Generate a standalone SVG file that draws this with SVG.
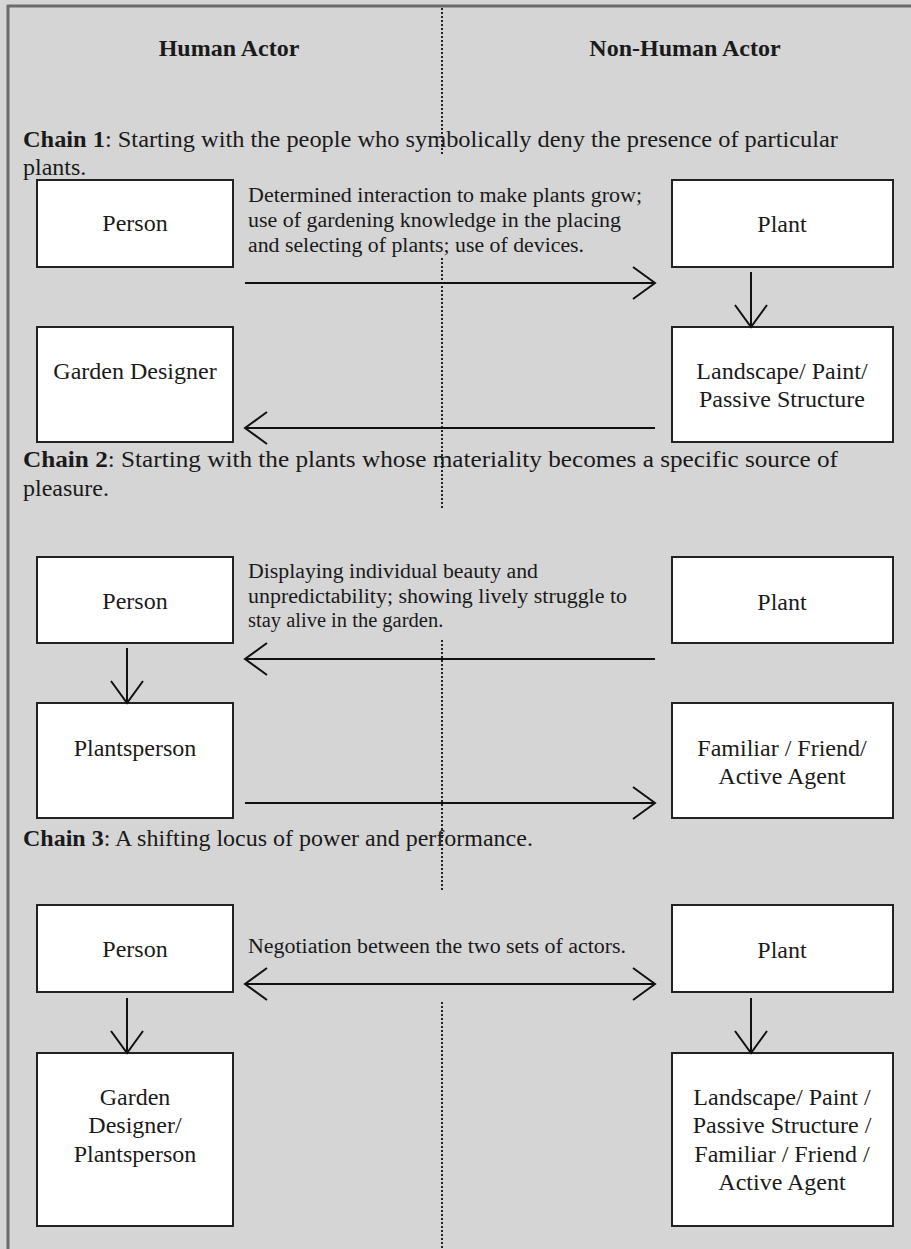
<svg xmlns="http://www.w3.org/2000/svg" width="911" height="1249" viewBox="0 0 911 1249">
<defs>
<style>
.bg{fill:#d5d5d5}
.frame{stroke:#6a6a6a;stroke-width:3;fill:none}
.box{fill:#ffffff;stroke:#222;stroke-width:2}
.t{font-family:"Liberation Serif","Times New Roman",serif;fill:#1a1a1a}
.bt{font-size:24px;text-anchor:middle}
.hd{font-size:24px;font-weight:bold;text-anchor:middle}
.ch{font-size:24px}
.lb{font-size:20.5px}
.arr{stroke:#111;stroke-width:2;fill:none}
.dot{stroke:#222;stroke-width:2;stroke-dasharray:2 2;fill:none}
</style>
<marker id="ah" viewBox="-24 -18 26 36" refX="0" refY="0" markerWidth="26" markerHeight="36" markerUnits="userSpaceOnUse" orient="auto-start-reverse">
<path d="M-22,-16 L0,0 L-22,16" fill="none" stroke="#111" stroke-width="2"/>
</marker>
</defs>
<rect class="bg" x="0" y="0" width="911" height="1249"/>
<g id="frame">
<line class="frame" x1="7" y1="6" x2="911" y2="6"/>
<line class="frame" x1="8" y1="5" x2="8" y2="1249"/>
</g>
<g id="divider">
<line class="dot" x1="442" y1="8" x2="442" y2="156"/>
<line class="dot" x1="442" y1="258" x2="442" y2="508"/>
<line class="dot" x1="442" y1="640" x2="442" y2="890"/>
<line class="dot" x1="442" y1="1002" x2="442" y2="1249"/>
</g>
<g id="headers">
<text class="t hd" x="229" y="56">Human Actor</text>
<text class="t hd" x="685" y="56">Non-Human Actor</text>
</g>
<g id="chain1-title">
<text class="t ch" x="23" y="147" textLength="815" lengthAdjust="spacingAndGlyphs"><tspan font-weight="bold">Chain 1</tspan>: Starting with the people who symbolically deny the presence of particular</text>
<text class="t ch" x="23" y="175">plants.</text>
</g>
<g id="c1-person"><rect class="box" x="37" y="180" width="196" height="87"/><text class="t bt" x="135" y="231">Person</text></g>
<g id="c1-plant"><rect class="box" x="672" y="180" width="221" height="87"/><text class="t bt" x="782" y="232">Plant</text></g>
<g id="c1-designer"><rect class="box" x="37" y="327" width="196" height="115"/><text class="t bt" x="135" y="379">Garden Designer</text></g>
<g id="c1-landscape"><rect class="box" x="672" y="327" width="221" height="115"/><text class="t bt" x="782" y="379">Landscape/ Paint/</text><text class="t bt" x="782" y="407">Passive Structure</text></g>
<g id="c1-label">
<text class="t lb" x="248" y="202" textLength="394" lengthAdjust="spacingAndGlyphs">Determined interaction to make plants grow;</text>
<text class="t lb" x="248" y="227" textLength="373" lengthAdjust="spacingAndGlyphs">use of gardening knowledge in the placing</text>
<text class="t lb" x="248" y="252" textLength="336" lengthAdjust="spacingAndGlyphs">and selecting of plants; use of devices.</text>
</g>
<g id="chain2-title">
<text class="t ch" x="23" y="467" textLength="815" lengthAdjust="spacingAndGlyphs"><tspan font-weight="bold">Chain 2</tspan>: Starting with the plants whose materiality becomes a specific source of</text>
<text class="t ch" x="23" y="496">pleasure.</text>
</g>
<g id="c2-person"><rect class="box" x="37" y="557" width="196" height="86"/><text class="t bt" x="135" y="609">Person</text></g>
<g id="c2-plant"><rect class="box" x="672" y="557" width="221" height="86"/><text class="t bt" x="782" y="610">Plant</text></g>
<g id="c2-plantsperson"><rect class="box" x="37" y="703" width="196" height="115"/><text class="t bt" x="135" y="756">Plantsperson</text></g>
<g id="c2-familiar"><rect class="box" x="672" y="703" width="221" height="115"/><text class="t bt" x="782" y="756">Familiar / Friend/</text><text class="t bt" x="782" y="784">Active Agent</text></g>
<g id="c2-label">
<text class="t lb" x="248" y="578" textLength="290" lengthAdjust="spacingAndGlyphs">Displaying individual beauty and</text>
<text class="t lb" x="248" y="603" textLength="379" lengthAdjust="spacingAndGlyphs">unpredictability; showing lively struggle to</text>
<text class="t lb" x="248" y="627">stay alive in the garden.</text>
</g>
<g id="chain3-title">
<text class="t ch" x="23" y="846"><tspan font-weight="bold">Chain 3</tspan>: A shifting locus of power and performance.</text>
</g>
<g id="c3-person"><rect class="box" x="37" y="905" width="196" height="87"/><text class="t bt" x="135" y="957">Person</text></g>
<g id="c3-plant"><rect class="box" x="672" y="905" width="221" height="87"/><text class="t bt" x="782" y="958">Plant</text></g>
<g id="c3-designer"><rect class="box" x="37" y="1053" width="196" height="173"/><text class="t bt" x="135" y="1105">Garden</text><text class="t bt" x="135" y="1133">Designer/</text><text class="t bt" x="135" y="1162">Plantsperson</text></g>
<g id="c3-landscape"><rect class="box" x="672" y="1053" width="221" height="173"/><text class="t bt" x="782" y="1105">Landscape/ Paint /</text><text class="t bt" x="782" y="1133">Passive Structure /</text><text class="t bt" x="782" y="1162">Familiar / Friend /</text><text class="t bt" x="782" y="1190">Active Agent</text></g>
<g id="c3-label">
<text class="t lb" x="248" y="953" textLength="378" lengthAdjust="spacingAndGlyphs">Negotiation between the two sets of actors.</text>
</g>
<g id="connectors">
<line class="arr" x1="245" y1="283" x2="655" y2="283" marker-end="url(#ah)"/>
<line class="arr" x1="751" y1="272" x2="751" y2="327" marker-end="url(#ah)"/>
<line class="arr" x1="655" y1="428" x2="245" y2="428" marker-end="url(#ah)"/>
<line class="arr" x1="655" y1="659" x2="245" y2="659" marker-end="url(#ah)"/>
<line class="arr" x1="127" y1="648" x2="127" y2="703" marker-end="url(#ah)"/>
<line class="arr" x1="245" y1="803" x2="655" y2="803" marker-end="url(#ah)"/>
<line class="arr" x1="245" y1="984" x2="655" y2="984" marker-start="url(#ah)" marker-end="url(#ah)"/>
<line class="arr" x1="127" y1="998" x2="127" y2="1053" marker-end="url(#ah)"/>
<line class="arr" x1="751" y1="998" x2="751" y2="1053" marker-end="url(#ah)"/>
</g>
</svg>
